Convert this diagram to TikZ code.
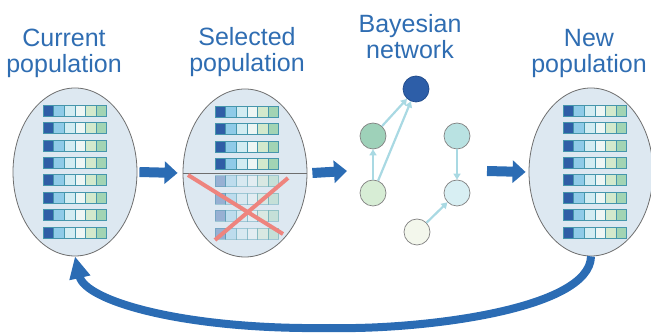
\documentclass[tikz,border=0pt]{standalone}
\usepackage{fontspec}
\setmainfont{Liberation Sans}
\usetikzlibrary{arrows.meta,shapes.geometric}

\definecolor{titleblue}{RGB}{47,109,178}
\definecolor{flowblue}{RGB}{43,108,180}
\definecolor{popfill}{RGB}{221,232,241}
\definecolor{popline}{RGB}{110,110,110}
\definecolor{cellline}{RGB}{70,150,172}
\definecolor{gA}{RGB}{47,94,166}
\definecolor{gB}{RGB}{143,203,232}
\definecolor{gC}{RGB}{210,236,242}
\definecolor{gD}{RGB}{238,246,244}
\definecolor{gE}{RGB}{211,233,204}
\definecolor{gF}{RGB}{162,212,180}
\definecolor{crossred}{RGB}{238,132,126}
\definecolor{deplink}{RGB}{169,217,227}
\definecolor{bnline}{RGB}{130,130,130}
\definecolor{bnA}{RGB}{45,94,168}
\definecolor{bnAline}{RGB}{31,74,138}
\definecolor{bnB}{RGB}{158,209,185}
\definecolor{bnC}{RGB}{215,237,213}
\definecolor{bnD}{RGB}{185,226,226}
\definecolor{bnE}{RGB}{216,239,243}
\definecolor{bnF}{RGB}{243,247,236}

\tikzset{
	pop/.style={ellipse, draw=popline, fill=popfill, line width=0.8pt,
		minimum width=124pt, minimum height=168pt, inner sep=0pt},
	cell/.style={draw=cellline, line width=0.5pt},
	title/.style={font=\fontsize{25}{26}\selectfont, text=titleblue,
		align=center, inner sep=0pt, anchor=north},
	bn/.style={circle, draw=bnline, line width=0.7pt, minimum size=26pt, inner sep=0pt},
	dep/.style={draw=deplink, line width=2.2pt, -{Triangle[length=6pt,width=7pt]}},
	flow/.style={draw=flowblue, line width=10pt, -{Triangle[length=13pt,width=22pt]}},
	returnarrow/.style={draw=flowblue, line width=8pt, -{Triangle[length=22pt,width=20pt]}},
	cross/.style={draw=crossred, line width=4pt}
}

\begin{document}
\begin{tikzpicture}[x=1pt,y=-1pt]
		\useasboundingbox (0,0) rectangle (651,336);

		% titles
		\node[title] (tcur) at (64,29) {Current\\population};
		\node[title] (tsel) at (247,27) {Selected\\population};
		\node[title] (tbay) at (410,14) {Bayesian\\network};
		\node[title] (tnew) at (589,29) {New\\population};

		% populations
		\node[pop] (cur) at (75,172) {};
		\node[pop] (sel) at (245,173) {};
		\node[pop] (new) at (591,172) {};

		\foreach \px in {43,563} {
			\foreach \r in {0,...,7} {
				\foreach \c [count=\i from 0] in {gA,gB,gC,gD,gE,gF}
					\draw[cell, fill=\c] (\px+\i*10.6,105+\r*17.4) rectangle ++(10.6,11);
			}
		}
		\foreach \r in {0,...,3} {
			\foreach \c [count=\i from 0] in {gA,gB,gC,gD,gE,gF}
				\draw[cell, fill=\c] (215+\i*10.6,106+\r*17.4) rectangle ++(10.6,11);
		}
		\foreach \r in {4,...,7} {
			\foreach \c [count=\i from 0] in {gA,gB,gC,gD,gE,gF}
				\draw[cell, fill=\c, opacity=0.4] (215+\i*10.6,106+\r*17.4) rectangle ++(10.6,11);
		}
		\draw[popline, line width=0.8pt] (sel.west) -- (sel.east);
		\draw[cross] (188,175) -- (283,234);
		\draw[cross] (288,178) -- (215,240);

		% bayesian network
		\node[bn, fill=bnA, draw=bnAline] (bnTop) at (416,89) {};
		\node[bn, fill=bnB] (bnMidL) at (373,136) {};
		\node[bn, fill=bnC] (bnLowL) at (373,193) {};
		\node[bn, fill=bnD] (bnMidR) at (457,136) {};
		\node[bn, fill=bnE] (bnLowR) at (457,193) {};
		\node[bn, fill=bnF] (bnBot) at (417,232) {};

		\draw[dep] (bnLowL) -- (bnMidL);
		\draw[dep] (bnMidL) -- (bnTop);
		\draw[dep] (bnLowL) -- (bnTop);
		\draw[dep] (bnMidR) -- (bnLowR);
		\draw[dep] (bnBot) -- (bnLowR);

		% flow
		\coordinate (bnin) at (347,171);
		\coordinate (bnout) at (487,171);
		\draw[flow] ([xshift=2pt]cur.east) -- ([xshift=-5pt]sel.west);
		\draw[flow] ([xshift=5pt]sel.east) -- (bnin);
		\draw[flow] (bnout) -- ([xshift=-3pt]new.west);
		\draw[returnarrow] (new.south) .. controls (590,310) and (420,330) .. (330,328)
			.. controls (180,330) and (85,300) .. (cur.south);
	\end{tikzpicture}
\end{document}
